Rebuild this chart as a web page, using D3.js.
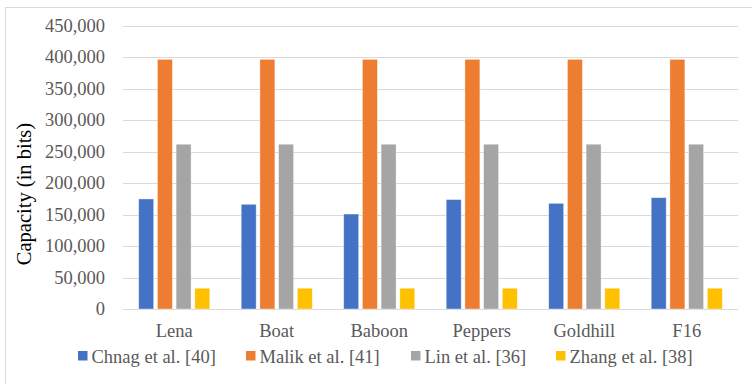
<!DOCTYPE html>
<html>
<head>
<meta charset="utf-8">
<script src="https://cdn.jsdelivr.net/npm/d3@7/dist/d3.min.js"></script>
<style>
  html, body { margin: 0; padding: 0; background: #fff; }
  svg { display: block; }
  text { font-family: "Liberation Serif", "Times New Roman", serif; }
</style>
</head>
<body>
<svg id="chart" width="752" height="384"></svg>
<script>
// Test images and methods
const categories = ["Lena", "Boat", "Baboon", "Peppers", "Goldhill", "F16"];
const seriesNames = ["Chnag et al. [40]", "Malik et al. [41]", "Lin et al. [36]", "Zhang et al. [38]"];
const chnag = [175000, 166500, 151000, 174000, 168000, 177000];
const malik = [397000, 397000, 397000, 397000, 397000, 397000];
const lin   = [262000, 262000, 262000, 262000, 262000, 262000];
const zhang = [33000, 33000, 33000, 33000, 33000, 33000];
const yTicks = [0, 50000, 100000, 150000, 200000, 250000, 300000, 350000, 400000, 450000];
const colors = ["#4472C4", "#ED7D31", "#A5A5A5", "#FFC000"];
const yTitle = "Capacity (in bits)";

const seriesValues = [chnag, malik, lin, zhang];
const svg = d3.select("#chart");
const plot = { left: 123, right: 738, top: 26, bottom: 309 };

// outer chart frame
svg.append("rect")
  .attr("x", 5.5).attr("y", 7.5)
  .attr("width", 800).attr("height", 420)
  .attr("fill", "#fff").attr("stroke", "#D9D9D9").attr("stroke-width", 1);

const x0 = d3.scaleBand().domain(categories).range([plot.left, plot.right]).padding(0);
const x1 = d3.scaleBand().domain(seriesNames).range([0, x0.bandwidth()])
  .paddingInner(0.2).paddingOuter(0.84);
const y = d3.scaleLinear().domain([0, 450000]).range([plot.bottom, plot.top]);

// horizontal gridlines
svg.append("g").selectAll("line").data(yTicks).join("line")
  .attr("x1", plot.left).attr("x2", plot.right)
  .attr("y1", d => Math.round(y(d)) + 0.5).attr("y2", d => Math.round(y(d)) + 0.5)
  .attr("stroke", "#D9D9D9").attr("stroke-width", 1.2);

// y axis labels
const fmt = d3.format(",");
svg.append("g").selectAll("text").data(yTicks).join("text")
  .attr("x", 105).attr("y", d => y(d) + 6)
  .attr("text-anchor", "end")
  .attr("font-size", 18.5).attr("fill", "#595959")
  .text(d => fmt(d));

// bars
const rows = categories.map((c, i) => ({ cat: c, vals: seriesNames.map((s, j) => ({ s, j, v: seriesValues[j][i] })) }));
const groups = svg.append("g").selectAll("g").data(rows).join("g")
  .attr("transform", d => `translate(${x0(d.cat)},0)`);
groups.selectAll("rect").data(d => d.vals).join("rect")
  .attr("x", d => x1(d.s))
  .attr("y", d => y(d.v))
  .attr("width", x1.bandwidth())
  .attr("height", d => y(0) - y(d.v))
  .attr("fill", d => colors[d.j])
  .attr("stroke", "#fff").attr("stroke-opacity", 0.5).attr("stroke-width", 0.75);

// category labels
svg.append("g").selectAll("text").data(categories).join("text")
  .attr("x", d => x0(d) + x0.bandwidth() / 2).attr("y", 337)
  .attr("text-anchor", "middle")
  .attr("font-size", 18.5).attr("fill", "#595959")
  .text(d => d);

// y axis title
svg.append("text")
  .attr("transform", "translate(31,194) rotate(-90)")
  .attr("text-anchor", "middle")
  .attr("font-size", 20.5).attr("fill", "#000")
  .text(yTitle);

// legend
const legendX = [78, 246, 411, 556];
const legend = svg.append("g").selectAll("g").data(seriesNames).join("g")
  .attr("transform", (d, i) => `translate(${legendX[i]},0)`);
legend.append("rect")
  .attr("x", 0).attr("y", 351).attr("width", 9.5).attr("height", 9.5)
  .attr("fill", (d, i) => colors[i]);
legend.append("text")
  .attr("x", 13.5).attr("y", 363)
  .attr("font-size", 18.5).attr("fill", "#595959")
  .text(d => d);
</script>
</body>
</html>
